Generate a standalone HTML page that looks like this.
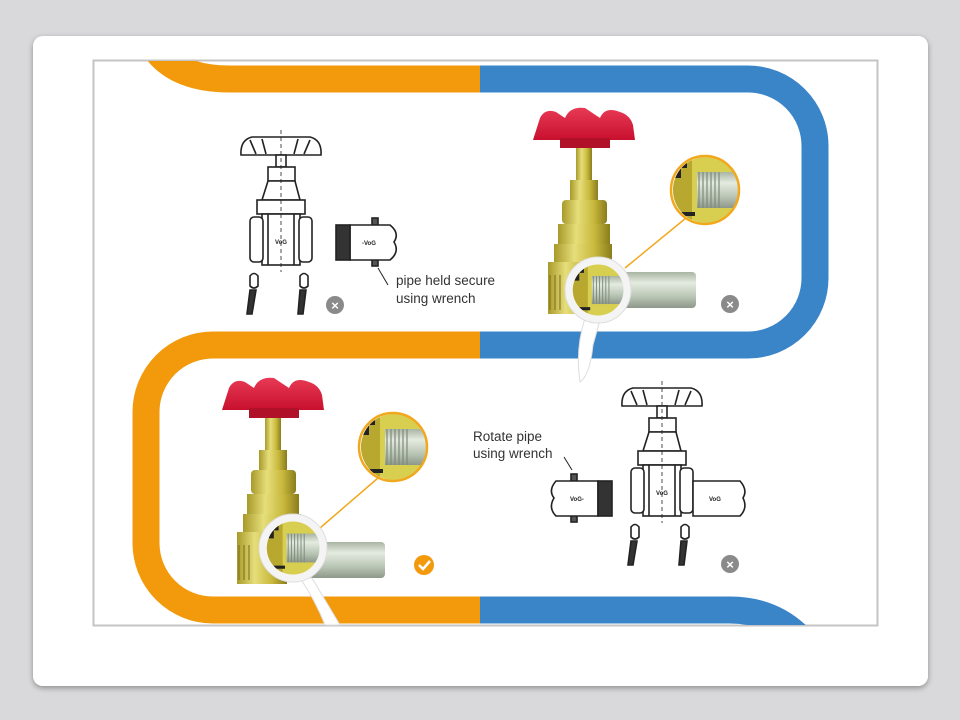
<!DOCTYPE html>
<html><head><meta charset="utf-8"><style>
html,body{margin:0;padding:0;background:#d9d9db;width:960px;height:720px;overflow:hidden}
svg{display:block}
</style></head><body>
<svg width="960" height="720" viewBox="0 0 960 720" xmlns="http://www.w3.org/2000/svg" font-family="Liberation Sans, sans-serif">
<defs>
<filter id="sh" x="-5%" y="-5%" width="110%" height="115%"><feDropShadow dx="0" dy="2" stdDeviation="3" flood-color="#000" flood-opacity="0.35"/></filter>
<linearGradient id="brass" x1="0" x2="1"><stop offset="0" stop-color="#a89a2a"/><stop offset="0.35" stop-color="#e6de7a"/><stop offset="0.7" stop-color="#c8b83c"/><stop offset="1" stop-color="#8a7d1c"/></linearGradient>
<linearGradient id="pipe" x1="0" y1="0" x2="0" y2="1"><stop offset="0" stop-color="#a9b4a3"/><stop offset="0.3" stop-color="#e4ebe0"/><stop offset="0.7" stop-color="#b8c4b3"/><stop offset="1" stop-color="#8d988a"/></linearGradient>
<linearGradient id="red" x1="0" y1="0" x2="0" y2="1"><stop offset="0" stop-color="#e83a55"/><stop offset="1" stop-color="#c8102e"/></linearGradient>
<clipPath id="frame"><rect x="94" y="61" width="783" height="564"/></clipPath>
<g id="lineValve" fill="#fff" stroke="#222" stroke-width="1.6">
  <path d="M241 155 Q240 140 252 137 L310 137 Q322 140 321 155 Z"/>
  <path d="M250 140 L256 154 M262 139 L266 154 M298 139 L294 154 M310 140 L304 154" fill="none"/>
  <rect x="276" y="155" width="10" height="12"/>
  <rect x="268" y="167" width="27" height="14"/>
  <path d="M268 181 L262 200 L300 200 L295 181 Z"/>
  <rect x="257" y="200" width="48" height="14"/>
  <rect x="262" y="214" width="38" height="51"/>
  <rect x="250" y="217" width="13" height="45" rx="4"/>
  <rect x="299" y="217" width="13" height="45" rx="4"/>
  <path d="M268 214 L268 265 M294 214 L294 265" fill="none"/>
  <line x1="281" y1="130" x2="281" y2="272" stroke-dasharray="4 3" stroke-width="0.8"/>
  <text x="281" y="244" font-size="6" text-anchor="middle" stroke="none" fill="#222" font-weight="bold">VoG</text>
  <path d="M250 276 q4 -5 8 0 l0 10 q-4 4 -8 0 Z M300 276 q4 -5 8 0 l0 10 q-4 4 -8 0 Z"/>
  <path d="M250 290 L247 314 L252 314 L256 290 Z M300 290 L298 314 L303 314 L306 290 Z" fill="#333"/>
</g>
<g id="colValve">
  <rect x="576" y="145" width="16" height="40" fill="url(#brass)"/>
  <path d="M540 118 Q545 108 556 112 L565 118 Q570 106 585 108 L600 118 Q605 106 620 112 Q630 115 633 125 L635 140 L533 140 Z" fill="url(#red)"/>
  <rect x="560" y="138" width="50" height="10" fill="#b01028"/>
  <rect x="570" y="180" width="28" height="22" fill="url(#brass)"/>
  <rect x="562" y="200" width="45" height="24" rx="4" fill="url(#brass)"/>
  <rect x="558" y="224" width="52" height="20" fill="url(#brass)"/>
  <rect x="554" y="244" width="58" height="18" fill="url(#brass)"/>
  <rect x="548" y="262" width="50" height="52" fill="url(#brass)"/>
  <path d="M550 275 v35 M555 275 v35 M560 275 v35" stroke="#7a6a1a" stroke-width="1"/>
  <rect x="610" y="272" width="86" height="36" rx="4" fill="url(#pipe)"/>
</g>
<g id="detail">
  <rect x="-35" y="-35" width="70" height="70" fill="#d8cf50"/>
  <rect x="-35" y="-35" width="22" height="70" fill="#b8a830"/>
  <path d="M-30 -30 h12 v8 h-6 v10 h-6 Z M-30 22 h20 v4 h-20 Z" fill="#222"/>
  <rect x="-8" y="-18" width="45" height="36" fill="url(#pipe)"/>
  <path d="M-6 -18 v36 M-2 -18 v36 M2 -18 v36 M6 -18 v36 M10 -18 v36 M14 -18 v36" stroke="#7e8a7b" stroke-width="1.2"/>
</g>
</defs>

<rect x="33" y="36" width="895" height="650" rx="10" fill="#fff" filter="url(#sh)"/>
<rect x="93.5" y="60.5" width="784" height="565" fill="#fff" stroke="#c4c4c4" stroke-width="2"/>

<g clip-path="url(#frame)">
  <!-- bands -->
  <path d="M150 40 Q170 79 230 79 L480 79" fill="none" stroke="#f29a0c" stroke-width="27"/>
  <path d="M480 79 L748 79 A67 67 0 0 1 815 146 L815 278 A67 67 0 0 1 748 345 L480 345" fill="none" stroke="#3a84c8" stroke-width="27"/>
  <path d="M480 345 L213 345 A67 67 0 0 0 146 412 L146 543 A67 67 0 0 0 213 610 L480 610" fill="none" stroke="#f29a0c" stroke-width="27"/>
  <path d="M480 610 L730 610 Q780 610 810 650" fill="none" stroke="#3a84c8" stroke-width="27"/>
</g>

<!-- panel 1 -->
<use href="#lineValve"/>
<g stroke="#222" stroke-width="1.6">
  <rect x="372" y="218" width="6" height="8" fill="#555"/>
  <rect x="372" y="258" width="6" height="8" fill="#555"/>
  <path d="M350 225 L390 225 Q400 233 394 242 Q400 252 390 260 L350 260 Z" fill="#fff"/>
  <rect x="336" y="225" width="14" height="35" fill="#333"/>
  <line x1="378" y1="268" x2="388" y2="285" stroke-width="1"/>
</g>
<text x="362" y="245" font-size="6" fill="#222" font-weight="bold">-VoG</text>
<text x="396" y="285" font-size="13.5" fill="#333">pipe held secure</text>
<text x="396" y="303" font-size="13.5" fill="#333">using wrench</text>
<circle cx="335" cy="305" r="9" fill="#8a8a8a"/><text x="335" y="310" font-size="13" fill="#fff" text-anchor="middle" font-weight="bold">×</text>

<!-- panel 2 -->
<use href="#colValve"/>
<line x1="625" y1="268" x2="686" y2="218" stroke="#f2a81e" stroke-width="1.5"/>
<g transform="translate(705,190)"><circle r="35" fill="#fff"/><g clip-path="circle(33px)"><use href="#detail"/></g><circle r="34" fill="none" stroke="#f2a81e" stroke-width="2.5"/></g>
<path d="M585 318 Q575 350 580 382 Q590 375 593 345 L600 320 Z" fill="#fff" stroke="#ddd"/>
<g transform="translate(598,290)"><circle r="33" fill="#fff"/><g clip-path="circle(26px)"><use href="#detail" transform="scale(0.78)"/></g><circle r="29" fill="none" stroke="#f4f4f4" stroke-width="7"/><circle r="33" fill="none" stroke="#ddd" stroke-width="1"/></g>
<circle cx="730" cy="304" r="9" fill="#8a8a8a"/><text x="730" y="309" font-size="13" fill="#fff" text-anchor="middle" font-weight="bold">×</text>

<!-- panel 3 -->
<use href="#colValve" transform="translate(-311,270)"/>
<line x1="320" y1="528" x2="378" y2="478" stroke="#f2a81e" stroke-width="1.5"/>
<g transform="translate(393,447)"><circle r="35" fill="#fff"/><g clip-path="circle(33px)"><use href="#detail"/></g><circle r="34" fill="none" stroke="#f2a81e" stroke-width="2.5"/></g>
<path d="M300 578 Q315 600 325 625 L340 625 Q325 600 312 578 Z" fill="#fff" stroke="#ddd"/>
<g transform="translate(293,548)"><circle r="34" fill="#fff"/><g clip-path="circle(27px)"><use href="#detail" transform="scale(0.8)"/></g><circle r="30" fill="none" stroke="#f4f4f4" stroke-width="7"/><circle r="34" fill="none" stroke="#ddd" stroke-width="1"/></g>
<circle cx="424" cy="565" r="10" fill="#f29a0c"/><path d="M419 565 l4 4 l7 -8" stroke="#fff" stroke-width="2.5" fill="none"/>

<!-- panel 4 -->
<use href="#lineValve" transform="translate(381,251)"/>
<g stroke="#222" stroke-width="1.6">
  <rect x="571" y="474" width="6" height="8" fill="#555"/>
  <rect x="571" y="514" width="6" height="8" fill="#555"/>
  <path d="M598 481 L556 481 Q548 490 554 498 Q548 508 556 516 L598 516 Z" fill="#fff"/>
  <rect x="598" y="481" width="14" height="35" fill="#333"/>
  <path d="M693 481 L740 481 Q748 490 743 498 Q748 508 740 516 L693 516 Z" fill="#fff"/>
  <line x1="572" y1="470" x2="564" y2="457" stroke-width="1"/>
</g>
<text x="570" y="501" font-size="6" fill="#222" font-weight="bold">VoG-</text>
<text x="709" y="501" font-size="6" fill="#222" font-weight="bold">VoG</text>
<text x="473" y="441" font-size="13.5" fill="#333">Rotate pipe</text>
<text x="473" y="458" font-size="13.5" fill="#333">using wrench</text>
<circle cx="730" cy="564" r="9" fill="#8a8a8a"/><text x="730" y="569" font-size="13" fill="#fff" text-anchor="middle" font-weight="bold">×</text>
</svg>
</body></html>
